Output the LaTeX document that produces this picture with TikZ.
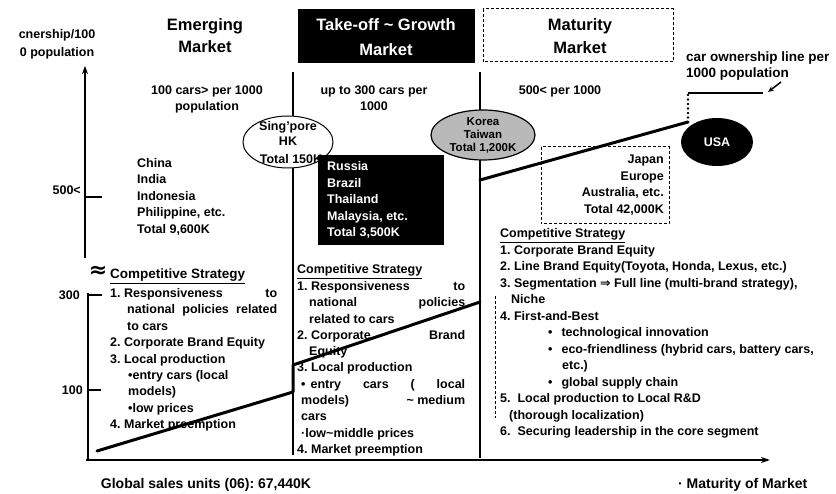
\documentclass[tikz,border=0pt]{standalone}
\usepackage{fontspec}
\setmainfont{Liberation Sans}
\newfontfamily\dejavu{DejaVu Sans}
\usetikzlibrary{arrows.meta,shapes.geometric}
\frenchspacing
\begin{document}
\begin{tikzpicture}[x=1pt,y=-1pt,
  lbl/.style={inner sep=0pt, font=\bfseries\fontsize{12.5}{16.4}\selectfont},
  ttl/.style={inner sep=0pt, font=\bfseries\fontsize{16.5}{20}\selectfont},
  sml/.style={inner sep=0pt, font=\bfseries\fontsize{11.5}{13}\selectfont},
  big/.style={inner sep=0pt, font=\bfseries\fontsize{14}{16}\selectfont},
  bnd/.style={line width=1.6pt},
  axisline/.style={line width=2pt},
  own/.style={line width=3pt, line join=round, line cap=round},
  dbox/.style={draw, line width=1pt, dash pattern=on 3pt off 2pt},
  wtxt/.style={lbl, text=white, anchor=base west}
]
\useasboundingbox[fill=white] (0,0) rectangle (836,494);

% ---- boundaries
\coordinate (b1t) at (293,72); \coordinate (b1b) at (293,455);
\coordinate (b2t) at (480,72); \coordinate (b2b) at (480,458);
\coordinate (b3t) at (495,296); \coordinate (b3b) at (495,418);
\draw[bnd] (b1t) -- (b1b);
\draw[bnd] (b2t) -- (b2b);
\draw[densely dashed, line width=0.8pt] (b3t) -- (b3b);

% ---- axes
\coordinate (yab) at (85,258); \coordinate (yat) at (85,66);
\coordinate (ylt) at (88,293); \coordinate (ylb) at (88,460);
\coordinate (xo) at (86,460); \coordinate (xe) at (770,460);
\draw[axisline,-{Stealth[length=8pt,width=6pt]}] (yab) -- (yat);
\draw[axisline] (ylt) -- (ylb);
\draw[axisline,-{Stealth[length=9pt,width=6pt]}] (xo) -- (xe);
\coordinate (t5a) at (85,197); \coordinate (t5b) at (102,197);
\coordinate (t3a) at (88,295); \coordinate (t3b) at (102,295);
\coordinate (t1a) at (88,390); \coordinate (t1b) at (101,390);
\draw[axisline] (t5a) -- (t5b);
\draw[axisline] (t3a) -- (t3b);
\draw[axisline] (t1a) -- (t1b);
\node[lbl, anchor=base east] (v500) at (81,194.5) {500<};
\node[lbl, anchor=base east] (v300) at (80,299.5) {300};
\node[lbl, anchor=base east] (v100) at (83,394.5) {100};
\node[lbl, anchor=base] (yl1) at (57,39) {cnership/100};
\node[lbl, anchor=base] (yl2) at (57,57) {0 population};

% ---- titles
\node[ttl, anchor=base] (em1) at (205,31) {Emerging};
\node[ttl, anchor=base] (em2) at (205,53) {Market};
\fill (298,9) rectangle (475,63);
\node[ttl, anchor=base, text=white] (to1) at (386,31) {Take-off \textasciitilde\ Growth};
\node[ttl, anchor=base, text=white] (to2) at (386,56) {Market};
\draw[dbox] (483,9) rectangle (673,62);
\node[ttl, anchor=base] (ma1) at (580,31) {Maturity};
\node[ttl, anchor=base] (ma2) at (580,54) {Market};

% ---- subtitles
\node[lbl, anchor=base] (s1a) at (207,94.5) {100 cars> per 1000};
\node[lbl, anchor=base] (s1b) at (207,111) {population};
\node[lbl, anchor=base] (s2a) at (374,94.5) {up to 300 cars per};
\node[lbl, anchor=base] (s2b) at (374,111) {1000};
\node[lbl, anchor=base] (s3a) at (560,94.5) {500< per 1000};
\node[lbl, anchor=base west, font=\bfseries\fontsize{13.5}{16}\selectfont] (cl1) at (686,62) {car ownership line per};
\node[lbl, anchor=base west, font=\bfseries\fontsize{13.5}{16}\selectfont] (cl2) at (686,78) {1000 population};

% ---- emerging countries
\node[lbl, anchor=base west] (cn1) at (137,167.5) {China};
\node[lbl, anchor=base west] (cn2) at (137,184) {India};
\node[lbl, anchor=base west] (cn3) at (137,200.5) {Indonesia};
\node[lbl, anchor=base west] (cn4) at (137,217) {Philippine, etc.};
\node[lbl, anchor=base west] (cn5) at (137,233.5) {Total 9,600K};

% ---- ellipses and boxes
\node[ellipse, draw, line width=1pt, fill=white, minimum width=90pt, minimum height=52pt, inner sep=0pt] (sgE) at (288,142) {};
\node[lbl, anchor=base] (sg1) at (288,131) {Sing'pore};
\node[lbl, anchor=base] (sg2) at (288,146) {HK};
\node[lbl, anchor=base] (sg3) at (291,164) {Total 150K};

\fill (318,155) rectangle (444,245);
\node[wtxt] (ru1) at (327,171) {Russia};
\node[wtxt] (ru2) at (327,187.5) {Brazil};
\node[wtxt] (ru3) at (327,204) {Thailand};
\node[wtxt] (ru4) at (327,220.5) {Malaysia, etc.};
\node[wtxt] (ru5) at (327,237) {Total 3,500K};

\node[ellipse, draw, line width=1.2pt, fill=gray!55, minimum width=104pt, minimum height=50pt, inner sep=0pt] (krE) at (483,135) {};
\node[sml, anchor=base] (kr1) at (483,126) {Korea};
\node[sml, anchor=base] (kr2) at (483,139) {Taiwan};
\node[sml, anchor=base] (kr3) at (483,152) {Total 1,200K};

\node[ellipse, fill=black, minimum width=72pt, minimum height=48pt, inner sep=0pt, lbl, text=white] (usa) at (717,142) {USA};

\draw[dbox] (541,147) rectangle (669,224);
\node[lbl, anchor=base east] (jp1) at (664,164) {Japan};
\node[lbl, anchor=base east] (jp2) at (664,180.5) {Europe};
\node[lbl, anchor=base east] (jp3) at (664,197) {Australia, etc.};
\node[lbl, anchor=base east] (jp4) at (664,213.5) {Total 42,000K};

% ---- emerging strategy
\node[inner sep=0pt, font=\dejavu\bfseries\fontsize{22}{22}\selectfont] (appr) at (98,272) {≈};
\node[lbl, anchor=base west, font=\bfseries\fontsize{13.5}{16}\selectfont] (ecs) at (110,279) {\underline{Competitive Strategy}};
\node[lbl, anchor=base west] (est) at (110,297.5) {\begin{minipage}[t]{167pt}\fontsize{12.5}{16.4}\selectfont
1. Responsiveness\hfill to\\
\hspace*{17pt}national\hfill policies\hfill related\\
\hspace*{17pt}to cars\\
2. Corporate Brand Equity\\
3. Local production\\
\hspace*{18pt}•entry cars (local\\
\hspace*{18pt}models)\\
\hspace*{18pt}•low prices\\
4. Market preemption
\end{minipage}};

% ---- take-off strategy
\node[lbl, anchor=base west] (mcs) at (297,274) {\underline{Competitive Strategy}};
\node[lbl, anchor=base west] (mst) at (297,290.5) {\begin{minipage}[t]{168pt}\fontsize{12.5}{16.3}\selectfont
1. Responsiveness\hfill to\\
\hspace*{12pt}national\hfill policies\\
\hspace*{12pt}related to cars\\
2. Corporate\hfill Brand\\
\hspace*{12pt}Equity\\
3. Local production\\
\hspace*{4pt}•\hspace{5pt}entry\hfill cars\hfill (\hfill local\\
\hspace*{4pt}models)\hfill\textasciitilde\ medium\\
\hspace*{4pt}cars\\
\hspace*{4pt}·low\textasciitilde middle prices\\
4. Market preemption
\end{minipage}};

% ---- maturity strategy
\node[lbl, anchor=base west] (tcs) at (500,238) {\underline{Competitive Strategy}};
\node[lbl, anchor=base west] (tst) at (500,254.5) {\begin{minipage}[t]{330pt}\fontsize{12.5}{16.5}\selectfont
1. Corporate Brand Equity\\
2. Line Brand Equity(Toyota, Honda, Lexus, etc.)\\
3. Segmentation {\dejavu ⇒} Full line (multi-brand strategy),\\
\hspace*{11pt}Niche\\
4. First-and-Best\\
\hspace*{48pt}•\hspace{9pt}technological innovation\\
\hspace*{48pt}•\hspace{9pt}eco-friendliness (hybrid cars, battery cars,\\
\hspace*{62pt}etc.)\\
\hspace*{48pt}•\hspace{9pt}global supply chain\\
5.\ \ Local production to Local R\&D\\
\hspace*{9pt}(thorough localization)\\
6.\ \ Securing leadership in the core segment
\end{minipage}};

% ---- bottom labels
\node[big, anchor=base] (gl) at (206,488) {Global sales units (06): 67,440K};
\node[big, anchor=base west] (mom) at (678,488) {·\ Maturity of Market};

% ---- car ownership line
\coordinate (o1) at (97,451); \coordinate (o2) at (293,392);
\coordinate (o3) at (293,365); \coordinate (o4) at (480,302);
\coordinate (o5) at (480,180); \coordinate (o6) at (688,122);
\coordinate (o7) at (688,93);  \coordinate (o8) at (763,93);
\coordinate (a1) at (781,82);  \coordinate (a2) at (768,92);
\draw[own] (o1) -- (o2) -- (o3) -- (o4);
\draw[own, line width=2.5pt] (o4) -- (o5);
\draw[own] (o5) -- (o6);
\draw[line width=2.6pt, line cap=round, dash pattern=on 0pt off 4.5pt] (o6) -- (o7);
\draw[line width=2.5pt] (o7) -- (o8);
\draw[line width=1.5pt, -{Stealth[length=6pt,width=5pt]}] (a1) -- (a2);
\end{tikzpicture}
\end{document}
